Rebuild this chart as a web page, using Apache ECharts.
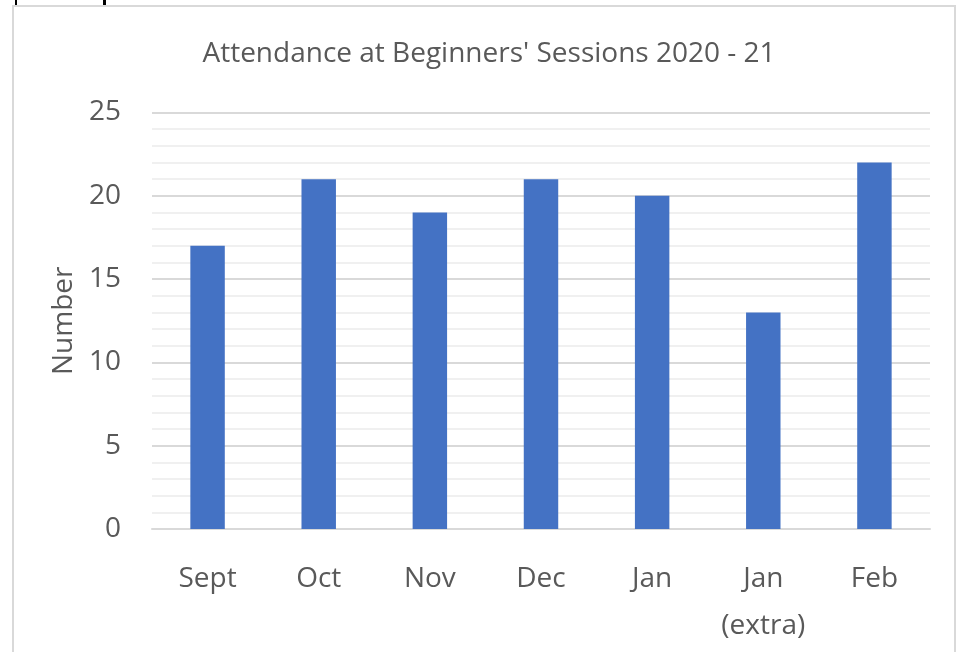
<!DOCTYPE html>
<html>
<head>
<meta charset="utf-8">
<script src="https://cdn.jsdelivr.net/npm/echarts@6/dist/echarts.min.js"></script>
<style>
html,body{margin:0;padding:0;background:#fff;}
#c{width:960px;height:652px;}
</style>
</head>
<body>
<div id="c"></div>
<script>
const categories = ['Sept', 'Oct', 'Nov', 'Dec', 'Jan', 'Jan\n(extra)', 'Feb'];
const attendance = [17, 21, 19, 21, 20, 13, 22];
const titleText = "Attendance at Beginners' Sessions 2020 - 21";
const yAxisName = 'Number';

const FONT = 'Open Sans';
const TXT = '#595959';

const chart = echarts.init(document.getElementById('c'), null, {renderer: 'canvas'});
chart.setOption({
  animation: false,
  backgroundColor: '#fff',
  title: {
    text: titleText,
    left: 484,
    textAlign: 'center',
    top: 35,
    textStyle: {fontFamily: FONT, fontSize: 28, fontWeight: 'normal', color: TXT}
  },
  graphic: [
    {type: 'rect', shape: {x: 13, y: 6, width: 942, height: 660}, style: {fill: 'none', stroke: '#d9d9d9', lineWidth: 2}, z: 0, silent: true},
    {type: 'rect', shape: {x: 15, y: 0, width: 2, height: 5}, style: {fill: '#000'}, silent: true},
    {type: 'rect', shape: {x: 103, y: 0, width: 3, height: 5}, style: {fill: '#000'}, silent: true}
  ],
  grid: {left: 152, right: 30, top: 112.5, bottom: 123, containLabel: false},
  xAxis: {
    type: 'category',
    data: categories,
    axisLine: {show: true, lineStyle: {color: '#d9d9d9', width: 2}},
    axisTick: {show: false},
    axisLabel: {fontFamily: FONT, fontSize: 28, color: TXT, margin: 27, lineHeight: 47, interval: 0}
  },
  yAxis: {
    type: 'value',
    min: 0, max: 25, interval: 5,
    name: yAxisName,
    nameLocation: 'middle',
    nameGap: 74,
    nameTextStyle: {fontFamily: FONT, fontSize: 28, color: TXT},
    axisLine: {show: false},
    axisTick: {show: false},
    axisLabel: {fontFamily: FONT, fontSize: 28, color: TXT, margin: 31},
    splitLine: {show: true, lineStyle: {color: '#d9d9d9', width: 2}},
    minorTick: {show: false, splitNumber: 5},
    minorSplitLine: {show: true, lineStyle: {color: '#f0f0f0', width: 2}}
  },
  series: [{
    type: 'bar',
    data: attendance,
    barWidth: '31%',
    itemStyle: {color: '#4472C4'}
  }]
});
</script>
</body>
</html>
